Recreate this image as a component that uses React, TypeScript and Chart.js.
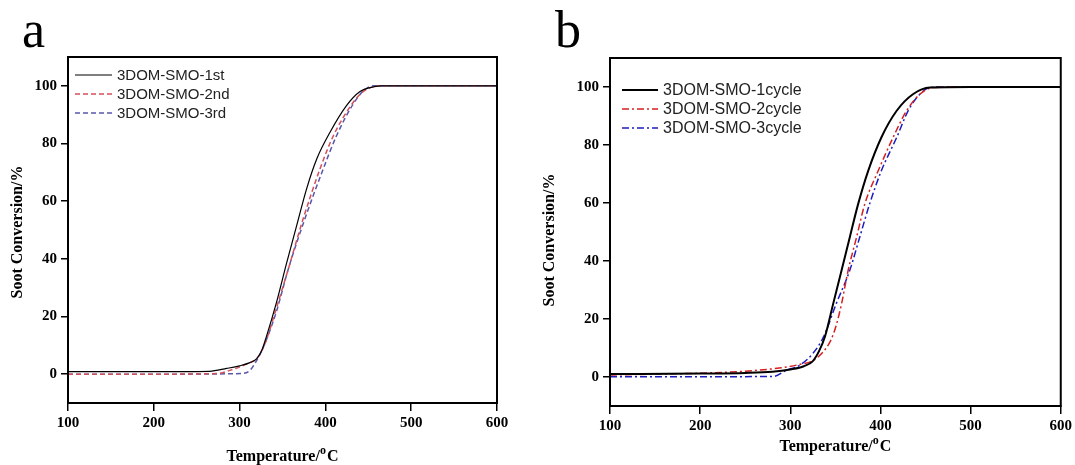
import React, { useEffect, useRef } from "react";
import { Chart, registerables } from "chart.js";
Chart.register(...registerables);

// ---- tick labels ----
const xTicks = [100, 200, 300, 400, 500, 600];
const yTicks = [0, 20, 40, 60, 80, 100];

// ---- panel a ----
const namesA = ["3DOM-SMO-1st", "3DOM-SMO-2nd", "3DOM-SMO-3rd"];
const tempA1 = [100, 200, 265, 285, 300, 312, 320, 326, 331.5, 343, 355, 366.5, 378, 390, 405.4, 424.8, 440.3, 452, 465, 500, 600];
const convA1 = [0.9, 0.9, 1.0, 2.0, 2.9, 4.0, 5.4, 8.4, 13.3, 24.9, 38.8, 51.5, 64.2, 74.7, 83.9, 93.2, 98.0, 99.4, 100, 100, 100];
const tempA2 = [100, 200, 273, 292.6, 308, 320, 326, 331.6, 343, 356.8, 374, 393.7, 409.3, 432.5, 444, 463.6, 500, 600];
const convA2 = [0, 0, 0.2, 1.7, 3.5, 5.4, 8.2, 12.2, 23, 36.5, 53.8, 71.2, 82.7, 94.3, 98, 100, 100, 100];
const tempA3 = [100, 200, 302, 312, 320, 326, 331.6, 343, 356.8, 376, 397.5, 413, 432, 445, 456, 500, 600];
const convA3 = [0, 0, 0.2, 1.3, 4.8, 8.2, 12.2, 21.8, 36.5, 53.8, 71.2, 82.7, 93.5, 98.5, 100, 100, 100];

// ---- panel b ----
const namesB = ["3DOM-SMO-1cycle", "3DOM-SMO-2cycle", "3DOM-SMO-3cycle"];
const tempB1 = [100, 200, 250, 280, 300, 315, 325, 332, 338.4, 347.6, 356.9, 366, 375.3, 386.4, 401, 418, 436, 455, 500, 600];
const convB1 = [1.0, 1.2, 1.4, 1.8, 2.6, 3.7, 5.5, 9, 13.9, 25.3, 36.8, 48.2, 59.7, 71.1, 82.6, 91.8, 97.5, 99.8, 100, 100];
const tempB2 = [100, 150, 200, 250, 290, 310, 325, 335, 343, 348, 352, 356.9, 364.2, 373.5, 382.7, 397.5, 414, 429, 443.7, 458, 480, 518];
const convB2 = [0.7, 1.0, 1.3, 2.0, 3.2, 4.3, 5.6, 8.2, 11.5, 15, 19, 25.3, 36.8, 48.2, 59.7, 71.1, 82.6, 91.8, 97.5, 99.8, 100, 100];
const tempB3 = [100, 200, 281, 296, 310.6, 325, 337, 351, 366, 377, 388, 401, 418, 430.7, 443.7, 455, 470, 491];
const convB3 = [0.1, 0.1, 0.2, 2.4, 4.1, 8.1, 13.9, 25.3, 36.8, 48.2, 59.7, 71.1, 82.6, 91.8, 97.5, 99.8, 100, 100];

const pts = (t: number[], c: number[]) => t.map((x, i) => ({ x, y: c[i] }));

const SERIF = "'Liberation Serif', 'Times New Roman', serif";
const SANS = "'Liberation Sans', Arial, sans-serif";

const decorPlugin = {
  id: "decor",
  afterDraw(chart: any, _args: any, opts: any) {
    const { ctx, chartArea: a } = chart;
    ctx.save();
    // frame
    ctx.strokeStyle = "#000";
    ctx.lineWidth = 2;
    ctx.setLineDash([]);
    ctx.strokeRect(a.left, a.top, a.right - a.left, a.bottom - a.top);

    // legend
    const lg = opts.legend;
    chart.data.datasets.forEach((ds: any, i: number) => {
      const y = lg.y0 + i * lg.dy;
      ctx.strokeStyle = ds.borderColor;
      ctx.lineWidth = ds.borderWidth;
      ctx.setLineDash(ds.borderDash || []);
      ctx.beginPath();
      ctx.moveTo(lg.x1, y);
      ctx.lineTo(lg.x2, y);
      ctx.stroke();
      ctx.setLineDash([]);
      ctx.fillStyle = "#222";
      ctx.font = `${lg.size}px ${SANS}`;
      ctx.textBaseline = "middle";
      ctx.textAlign = "left";
      ctx.fillText(ds.label, lg.tx, y + 1);
    });

    // panel letter
    ctx.fillStyle = "#000";
    ctx.font = `52px ${SERIF}`;
    ctx.textBaseline = "alphabetic";
    ctx.textAlign = "left";
    ctx.fillText(opts.letter, opts.letterX, 47);

    // y title
    ctx.save();
    ctx.translate(opts.yTitleX, opts.yTitleY);
    ctx.rotate(-Math.PI / 2);
    ctx.font = `bold 16px ${SERIF}`;
    ctx.textAlign = "center";
    ctx.textBaseline = "middle";
    ctx.fillText("Soot Conversion/%", 0, 0);
    ctx.restore();

    // x title with superscript
    const main = "Temperature/";
    const sup = "o";
    const tail = "C";
    const big = `bold 16px ${SERIF}`;
    const small = `bold 12px ${SERIF}`;
    ctx.font = big;
    const w1 = ctx.measureText(main).width;
    const w3 = ctx.measureText(tail).width;
    ctx.font = small;
    const w2 = ctx.measureText(sup).width + 1;
    const total = w1 + w2 + w3;
    let x = (a.left + a.right) / 2 - total / 2;
    const by = opts.xTitleY;
    ctx.textBaseline = "alphabetic";
    ctx.textAlign = "left";
    ctx.font = big;
    ctx.fillText(main, x, by);
    x += w1;
    ctx.font = small;
    ctx.fillText(sup, x, by - 7);
    x += w2;
    ctx.font = big;
    ctx.fillText(tail, x, by);
    ctx.restore();
  },
};

function makeConfig(datasets: any[], geo: any) {
  const tickFont = { family: SERIF, size: 15, weight: "bold" as const };
  const grid = { display: true, drawOnChartArea: false, drawTicks: true, tickLength: 8, color: "#000", lineWidth: 1.5 };
  const border = { display: true, color: "#000", width: 2 };
  return {
    type: "line" as const,
    data: { datasets },
    plugins: [decorPlugin],
    options: {
      responsive: false,
      animation: false as const,
      layout: { padding: { left: 0, top: geo.top, right: geo.right, bottom: 0 } },
      elements: { point: { radius: 0 }, line: { cubicInterpolationMode: "monotone" as const, fill: false } },
      plugins: {
        legend: { display: false },
        tooltip: { enabled: false },
        decor: geo.decor,
      },
      scales: {
        x: {
          type: "linear" as const,
          min: 100,
          max: 600,
          afterBuildTicks: (s: any) => { s.ticks = xTicks.map((v) => ({ value: v })); },
          afterFit: (s: any) => { s.height = geo.axisH; },
          grid,
          border,
          ticks: { font: tickFont, color: "#000", padding: 3, maxRotation: 0, autoSkip: false },
        },
        y: {
          type: "linear" as const,
          min: -10,
          max: 110,
          afterBuildTicks: (s: any) => { s.ticks = yTicks.map((v) => ({ value: v })); },
          afterFit: (s: any) => { s.width = geo.axisW; },
          grid: { ...grid, tickLength: 7 },
          border,
          ticks: { font: tickFont, color: "#000", padding: 4 },
        },
      },
    },
  };
}

export default function App() {
  const refA = useRef<HTMLCanvasElement>(null);
  const refB = useRef<HTMLCanvasElement>(null);

  useEffect(() => {
    const dsA = [
      { label: namesA[0], data: pts(tempA1, convA1), borderColor: "#000000", borderWidth: 1.2, borderDash: [] },
      { label: namesA[1], data: pts(tempA2, convA2), borderColor: "#d4505c", borderWidth: 1.5, borderDash: [5, 3] },
      { label: namesA[2], data: pts(tempA3, convA3), borderColor: "#5858aa", borderWidth: 1.5, borderDash: [5, 3] },
    ];
    const dsB = [
      { label: namesB[0], data: pts(tempB1, convB1), borderColor: "#000000", borderWidth: 2, borderDash: [] },
      { label: namesB[1], data: pts(tempB2, convB2), borderColor: "#d42020", borderWidth: 1.5, borderDash: [7, 3, 2, 3] },
      { label: namesB[2], data: pts(tempB3, convB3), borderColor: "#1c1cc0", borderWidth: 1.5, borderDash: [7, 3, 2, 3] },
    ];
    const chartA = new Chart(refA.current as HTMLCanvasElement, makeConfig(dsA, {
      top: 57, right: 38, axisH: 62, axisW: 68,
      decor: {
        legend: { x1: 75, x2: 112, tx: 117, y0: 75, dy: 19, size: 15 },
        letter: "a", letterX: 22, yTitleX: 18, yTitleY: 232, xTitleY: 461,
      },
    }) as any);
    const chartB = new Chart(refB.current as HTMLCanvasElement, makeConfig(dsB, {
      top: 58, right: 13, axisH: 59, axisW: 70,
      decor: {
        legend: { x1: 82, x2: 118, tx: 123, y0: 90, dy: 19, size: 16 },
        letter: "b", letterX: 15, yTitleX: 10, yTitleY: 240, xTitleY: 451,
      },
    }) as any);
    return () => {
      chartA.destroy();
      chartB.destroy();
    };
  }, []);

  return (
    <div style={{ position: "fixed", left: 0, top: 0, width: 1075, height: 465, background: "#fff" }}>
      <canvas ref={refA} width={535} height={465} style={{ position: "absolute", left: 0, top: 0 }} />
      <canvas ref={refB} width={535} height={465} style={{ position: "absolute", left: 540, top: 0 }} />
    </div>
  );
}
